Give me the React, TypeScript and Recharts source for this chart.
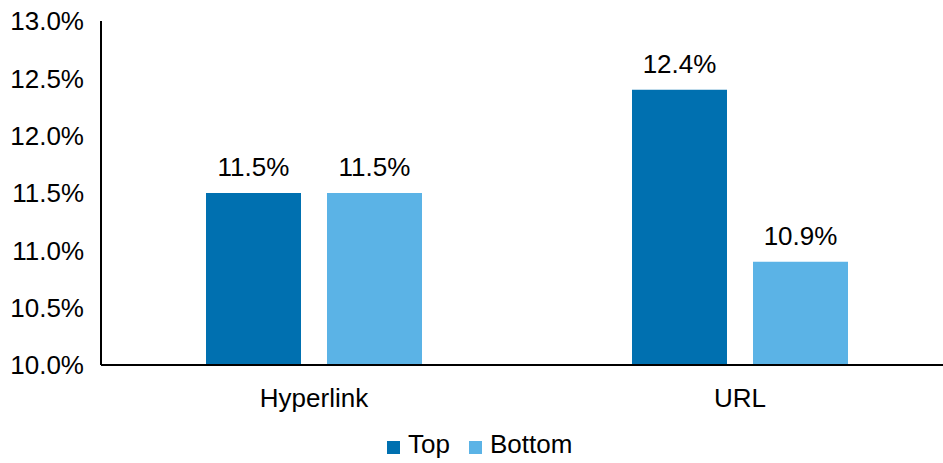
import { Bar, BarChart, LabelList, Legend, XAxis, YAxis } from "recharts";

const categories = ["Hyperlink", "URL"];
const topValues = [11.5, 12.4];
const bottomValues = [11.5, 10.9];
const yTicks = [10, 10.5, 11, 11.5, 12, 12.5, 13];
const seriesOrder = ["Top", "Bottom"];

const data = categories.map((name, i) => ({
	name,
	top: topValues[i],
	bottom: bottomValues[i],
}));

const font = '"Liberation Sans", Arial, sans-serif';
const pct = (v: any) => `${Number(v).toFixed(1)}%`;

const LegendBox = ({ payload }: any) => {
	const items = [...(payload || [])].sort(
		(a: any, b: any) => seriesOrder.indexOf(a.value) - seriesOrder.indexOf(b.value),
	);
	return (
		<div
			style={{
				height: 44,
				boxSizing: "border-box",
				paddingTop: 10,
				paddingLeft: 387,
				display: "flex",
				alignItems: "flex-start",
				fontFamily: font,
				fontSize: 26,
				lineHeight: "30px",
				color: "#000",
			}}
		>
			{items.map((p: any, i: number) => (
				<div key={p.value} style={{ display: "flex", alignItems: "flex-start", marginRight: i === 0 ? 19 : 0 }}>
					<span style={{ width: 13, height: 13, marginTop: 12, marginRight: 8, background: p.color }} />
					<span>{p.value}</span>
				</div>
			))}
		</div>
	);
};

export default function App() {
	return (
		<div style={{ position: "fixed", left: 0, top: 0, width: 943, height: 463, background: "#fff" }}>
			<BarChart
				width={943}
				height={463}
				data={data}
				margin={{ top: 21, right: -10, bottom: 0, left: 0 }}
				barSize={95}
				barGap={26}
			>
				<XAxis
					dataKey="name"
					height={54}
					tickLine={false}
					tickSize={0}
					tickMargin={24}
					axisLine={{ stroke: "#000", strokeWidth: 2 }}
					tick={{ fill: "#000", fontSize: 26, fontFamily: font }}
				/>
				<YAxis
					type="number"
					domain={[10, 13]}
					ticks={yTicks}
					interval={0}
					width={101}
					tickLine={false}
					tickSize={0}
					tickMargin={17}
					tickFormatter={pct}
					axisLine={{ stroke: "#000", strokeWidth: 2 }}
					tick={{ fill: "#000", fontSize: 26, fontFamily: font }}
				/>
				<Legend
					verticalAlign="bottom"
					content={<LegendBox />}
					wrapperStyle={{ left: 0, width: 943 }}
				/>
				<Bar dataKey="top" name="Top" fill="#0070B0" isAnimationActive={false}>
					<LabelList
						dataKey="top"
						position="top"
						offset={17}
						formatter={pct}
						style={{ fill: "#000", fontSize: 26, fontFamily: font }}
					/>
				</Bar>
				<Bar dataKey="bottom" name="Bottom" fill="#5BB3E6" isAnimationActive={false}>
					<LabelList
						dataKey="bottom"
						position="top"
						offset={17}
						formatter={pct}
						style={{ fill: "#000", fontSize: 26, fontFamily: font }}
					/>
				</Bar>
			</BarChart>
		</div>
	);
}
